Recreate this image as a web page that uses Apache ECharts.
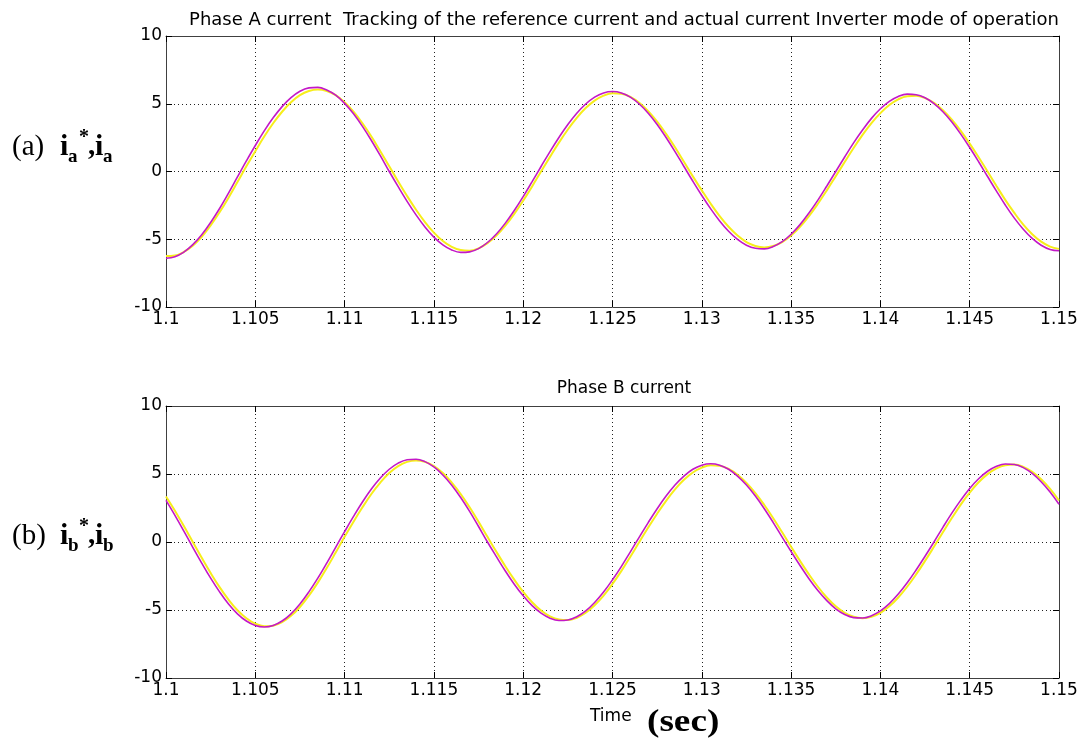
<!DOCTYPE html>
<html>
<head>
<meta charset="utf-8">
<script src="https://cdn.jsdelivr.net/npm/echarts@6/dist/echarts.min.js"></script>
<style>
html,body{margin:0;padding:0;background:#fff;}
#chart{width:1086px;height:744px;}
</style>
</head>
<body>
<div id="chart"></div>
<script>
// ---- data (sampled every 0.5 ms from 1.100 s to 1.150 s) ----
const tStart = 1.1;
const tStep = 0.0005;
const xTicks = ['1.1','1.105','1.11','1.115','1.12','1.125','1.13','1.135','1.14','1.145','1.15'];
const yTicks = ['-10','-5','0','5','10'];

// Phase A reference current (yellow)
const iaRef = [-6.24,-6.20,-5.94,-5.48,-4.82,-3.98,-3.01,-1.93,-0.78,0.38,
1.50,2.58,3.56,4.41,5.11,5.63,5.94,6.05,5.94,5.63,
5.11,4.41,3.56,2.58,1.50,0.38,-0.73,-1.81,-2.82,-3.73,
-4.51,-5.13,-5.56,-5.80,-5.84,-5.67,-5.29,-4.73,-4.00,-3.13,
-2.15,-1.10,0.00,1.08,2.13,3.10,3.96,4.68,5.23,5.60,
5.77,5.73,5.50,5.07,4.45,3.68,2.78,1.79,0.72,-0.36,
-1.39,-2.38,-3.29,-4.08,-4.73,-5.21,-5.50,-5.60,-5.50,-5.21,
-4.73,-4.08,-3.29,-2.38,-1.39,-0.35,0.70,1.73,2.70,3.57,
4.31,4.91,5.33,5.56,5.59,5.42,5.07,4.53,3.83,3.00,
2.06,1.05,0.00,-1.07,-2.11,-3.06,-3.92,-4.63,-5.18,-5.54,-5.71];

// Phase A actual current (magenta)
const iaAct = [-6.40,-6.29,-5.95,-5.40,-4.67,-3.76,-2.73,-1.59,-0.40,0.78,
1.92,3.00,3.96,4.79,5.45,5.92,6.17,6.21,6.02,5.63,
5.03,4.26,3.33,2.29,1.17,0.00,-1.12,-2.20,-3.20,-4.09,
-4.84,-5.41,-5.79,-5.97,-5.93,-5.69,-5.24,-4.61,-3.81,-2.88,
-1.85,-0.75,0.37,1.47,2.51,3.47,4.30,4.98,5.49,5.80,
5.90,5.80,5.49,4.98,4.30,3.47,2.51,1.47,0.37,-0.72,
-1.77,-2.76,-3.65,-4.41,-5.01,-5.44,-5.67,-5.71,-5.54,-5.18,
-4.63,-3.92,-3.06,-2.11,-1.07,0.00,1.07,2.11,3.06,3.92,
4.63,5.18,5.54,5.71,5.67,5.44,5.01,4.41,3.65,2.76,
1.77,0.72,-0.37,-1.45,-2.49,-3.44,-4.26,-4.94,-5.44,-5.75,-5.85];

// Phase B reference current (yellow)
const ibRef = [3.35,2.30,1.17,0.00,-1.16,-2.28,-3.32,-4.24,-5.02,-5.61,
-6.01,-6.19,-6.15,-5.90,-5.43,-4.78,-3.95,-2.99,-1.92,-0.78,
0.38,1.49,2.55,3.53,4.37,5.07,5.58,5.89,6.00,5.89,
5.58,5.07,4.37,3.53,2.55,1.49,0.38,-0.72,-1.78,-2.77,
-3.67,-4.43,-5.04,-5.47,-5.70,-5.74,-5.57,-5.20,-4.65,-3.94,
-3.08,-2.12,-1.08,0.00,1.06,2.08,3.03,3.87,4.57,5.11,
5.47,5.64,5.61,5.37,4.95,4.35,3.60,2.72,1.75,0.71,
-0.35,-1.39,-2.38,-3.29,-4.08,-4.73,-5.21,-5.50,-5.60,-5.50,
-5.21,-4.73,-4.08,-3.29,-2.38,-1.39,-0.35,0.71,1.76,2.75,
3.63,4.39,4.99,5.42,5.65,5.69,5.52,5.16,4.61,3.90,3.05];

// Phase B actual current (magenta)
const ibAct = [3.06,1.96,0.80,-0.39,-1.55,-2.66,-3.67,-4.56,-5.28,-5.81,
-6.14,-6.25,-6.14,-5.81,-5.28,-4.56,-3.67,-2.66,-1.55,-0.39,
0.76,1.88,2.94,3.89,4.70,5.35,5.80,6.05,6.09,5.91,
5.52,4.93,4.18,3.27,2.25,1.14,0.00,-1.08,-2.13,-3.10,
-3.96,-4.68,-5.23,-5.60,-5.77,-5.73,-5.50,-5.07,-4.45,-3.68,
-2.78,-1.79,-0.72,0.36,1.43,2.45,3.38,4.19,4.85,5.35,
5.65,5.75,5.65,5.35,4.85,4.19,3.38,2.45,1.43,0.36,
-0.70,-1.73,-2.70,-3.57,-4.31,-4.91,-5.33,-5.56,-5.59,-5.42,
-5.07,-4.53,-3.83,-3.00,-2.06,-1.05,0.00,1.08,2.12,3.08,
3.94,4.65,5.20,5.57,5.74,5.70,5.47,5.04,4.43,3.67,2.77];

const titleA = 'Phase A current  Tracking of the reference current and actual current Inverter mode of operation';
const titleB = 'Phase B current';

// ---- build ----
const time = iaAct.map((_, i) => +(tStart + i * tStep).toFixed(4));
const pairs = arr => arr.map((v, i) => [time[i], v]);

const chart = echarts.init(document.getElementById('chart'), null, {renderer: 'canvas'});
const axisColor = '#404040';
const sans = '"DejaVu Sans", Verdana, sans-serif';
const serif = '"Liberation Serif", "Times New Roman", serif';
const fmtX = v => xTicks.find(s => Math.abs(parseFloat(s) - v) < 1e-7) || '';
const fmtY = v => yTicks.find(s => Math.abs(parseFloat(s) - v) < 1e-7) || '';

function xAx(gi, show) {
  return {
    type: 'value', gridIndex: gi, min: 1.1, max: 1.15, interval: 0.005,
    position: show ? 'bottom' : 'top',
    axisLine: {show: true, onZero: false, lineStyle: {color: axisColor, width: 1}},
    axisTick: {show: true, inside: true, length: 6, lineStyle: {color: '#000', width: 1}},
    axisLabel: {show: show, formatter: fmtX, color: '#000', fontFamily: sans, fontSize: 17, margin: 4},
    splitLine: {show: show, lineStyle: {color: '#222', type: [1, 3], width: 1}}
  };
}
function yAx(gi, show) {
  return {
    type: 'value', gridIndex: gi, min: -10, max: 10, interval: 5,
    position: show ? 'left' : 'right',
    axisLine: {show: true, onZero: false, lineStyle: {color: axisColor, width: 1}},
    axisTick: {show: true, inside: true, length: 6, lineStyle: {color: '#000', width: 1}},
    axisLabel: {show: show, formatter: fmtY, color: '#000', fontFamily: sans, fontSize: 17, margin: 4},
    splitLine: {show: show, lineStyle: {color: '#222', type: [1, 3], width: 1}}
  };
}

function line(name, data, xi, yi, color, w, z) {
  return {
    name: name, type: 'line', xAxisIndex: xi, yAxisIndex: yi, data: pairs(data),
    showSymbol: false, smooth: 0.4, lineStyle: {color: color, width: w}, z: z,
    itemStyle: {color: color}
  };
}

const labelTexts = [];
function ilabel(letter, cy) {
  const items = [
    {text: '(' + letter + ')', x: 12, y: cy, size: 29, bold: false},
    {text: 'i', x: 60, y: cy, size: 30, bold: true},
    {text: letter, x: 68, y: cy + 10, size: 19, bold: true},
    {text: '*', x: 79, y: cy - 9, size: 20, bold: true},
    {text: ',', x: 88, y: cy, size: 29, bold: true},
    {text: 'i', x: 95, y: cy, size: 30, bold: true},
    {text: letter, x: 103, y: cy + 10, size: 19, bold: true}
  ];
  items.forEach(it => labelTexts.push({
    type: 'text', left: it.x, top: it.y - it.size / 2, silent: true,
    style: {text: it.text, fill: '#000', font: (it.bold ? 'bold ' : '') + it.size + 'px ' + serif}
  }));
}
ilabel('a', 147);
ilabel('b', 536);

chart.setOption({
  animation: false,
  backgroundColor: '#fff',
  title: [
    {text: titleA, left: 619, top: 6, textAlign: 'center',
     textStyle: {fontFamily: sans, fontSize: 18, fontWeight: 'normal', color: '#000'}},
    {text: titleB, left: 619, top: 375, textAlign: 'center',
     textStyle: {fontFamily: sans, fontSize: 17, fontWeight: 'normal', color: '#000'}}
  ],
  grid: [
    {left: 166, top: 36, width: 893, height: 271},
    {left: 166, top: 406, width: 893, height: 272}
  ],
  xAxis: [xAx(0, true), xAx(0, false), xAx(1, true), xAx(1, false)],
  yAxis: [yAx(0, true), yAx(0, false), yAx(1, true), yAx(1, false)],
  series: [
    line('i_a* (reference)', iaRef, 0, 0, '#f7ee1a', 2, 2),
    line('i_a (actual)', iaAct, 0, 0, '#c318c8', 1.6, 3),
    line('i_b* (reference)', ibRef, 2, 2, '#f7ee1a', 2, 2),
    line('i_b (actual)', ibAct, 2, 2, '#c318c8', 1.6, 3)
  ],
  graphic: labelTexts.concat([
    {type: 'text', left: 590, top: 708, silent: true,
     style: {text: 'Time', fill: '#000', font: '17px ' + sans}},
    {type: 'text', left: 647, top: 707, silent: true, scaleX: 1.2,
     style: {text: '(sec)', fill: '#000', font: 'bold 31px ' + serif}}
  ])
});
</script>
</body>
</html>
